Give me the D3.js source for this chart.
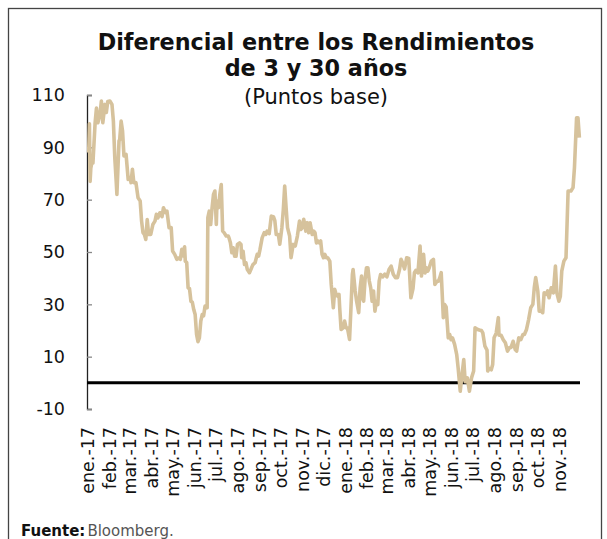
<!DOCTYPE html>
<html lang="es">
<head>
<meta charset="utf-8">
<script src="https://cdn.jsdelivr.net/npm/d3@7/dist/d3.min.js"></script>
<style>
  html, body { margin: 0; padding: 0; background: #fff; }
  svg { display: block; }
  text { font-family: "DejaVu Sans", "Noto Sans", sans-serif; fill: #111; }
</style>
</head>
<body>
<svg id="grafica" width="607" height="539"></svg>
<script>
// Diferencial 3 vs 30 años, puntos base (observaciones diarias muestreadas)
const fechas = [
  "2017-01-02","2017-01-03","2017-01-04","2017-01-05","2017-01-07","2017-01-08","2017-01-11","2017-01-13","2017-01-15","2017-01-18",
  "2017-01-20","2017-01-22","2017-01-25","2017-01-27","2017-01-29","2017-02-01","2017-02-04","2017-02-06","2017-02-08","2017-02-10",
  "2017-02-11","2017-02-14","2017-02-15","2017-02-17","2017-02-19","2017-02-21","2017-02-24","2017-02-27","2017-03-02","2017-03-03",
  "2017-03-05","2017-03-07","2017-03-10","2017-03-13","2017-03-16","2017-03-18","2017-03-20","2017-03-22","2017-03-24","2017-03-26",
  "2017-03-28","2017-03-31","2017-04-03","2017-04-06","2017-04-08","2017-04-10","2017-04-13","2017-04-16","2017-04-18","2017-04-21",
  "2017-04-23","2017-04-26","2017-04-29","2017-05-01","2017-05-04","2017-05-07","2017-05-10","2017-05-12","2017-05-14","2017-05-16",
  "2017-05-18","2017-05-19","2017-05-21","2017-05-23","2017-05-25","2017-05-27","2017-05-29","2017-05-31","2017-06-02","2017-06-04",
  "2017-06-06","2017-06-08","2017-06-10","2017-06-12","2017-06-14","2017-06-16","2017-06-17","2017-06-19","2017-06-20","2017-06-22",
  "2017-06-24","2017-06-26","2017-06-28","2017-06-30","2017-07-02","2017-07-03","2017-07-05","2017-07-07","2017-07-09","2017-07-11",
  "2017-07-13","2017-07-16","2017-07-19","2017-07-20","2017-07-22","2017-07-24","2017-07-26","2017-07-28","2017-07-30","2017-08-01",
  "2017-08-04","2017-08-06","2017-08-07","2017-08-09","2017-08-11","2017-08-13","2017-08-15","2017-08-18","2017-08-20","2017-08-22",
  "2017-08-23","2017-08-26","2017-08-29","2017-08-31","2017-09-02","2017-09-05","2017-09-08","2017-09-10","2017-09-12","2017-09-15",
  "2017-09-18","2017-09-21","2017-09-23","2017-09-25","2017-09-28","2017-09-30","2017-10-03","2017-10-05","2017-10-07","2017-10-09",
  "2017-10-11","2017-10-14","2017-10-16","2017-10-19","2017-10-22","2017-10-25","2017-10-28","2017-10-30","2017-11-01","2017-11-03",
  "2017-11-06","2017-11-08","2017-11-10","2017-11-12","2017-11-15","2017-11-17","2017-11-19","2017-11-21","2017-11-23","2017-11-25",
  "2017-11-27","2017-11-29","2017-12-01","2017-12-03","2017-12-05","2017-12-07","2017-12-10","2017-12-12","2017-12-15","2017-12-17",
  "2017-12-19","2017-12-21","2017-12-23","2017-12-24","2017-12-26","2017-12-29","2017-12-31","2018-01-02","2018-01-04","2018-01-07",
  "2018-01-09","2018-01-11","2018-01-12","2018-01-15","2018-01-17","2018-01-20","2018-01-22","2018-01-24","2018-01-26","2018-01-27",
  "2018-01-29","2018-01-31","2018-02-02","2018-02-04","2018-02-06","2018-02-08","2018-02-10","2018-02-12","2018-02-14","2018-02-16",
  "2018-02-18","2018-02-20","2018-02-23","2018-02-26","2018-03-01","2018-03-04","2018-03-07","2018-03-10","2018-03-13","2018-03-16",
  "2018-03-19","2018-03-21","2018-03-23","2018-03-26","2018-03-29","2018-04-01","2018-04-04","2018-04-07","2018-04-09","2018-04-11",
  "2018-04-14","2018-04-17","2018-04-19","2018-04-22","2018-04-24","2018-04-26","2018-04-28","2018-04-30","2018-05-03","2018-05-06",
  "2018-05-08","2018-05-11","2018-05-13","2018-05-15","2018-05-17","2018-05-20","2018-05-22","2018-05-24","2018-05-27","2018-05-29",
  "2018-05-31","2018-06-02","2018-06-05","2018-06-08","2018-06-10","2018-06-13","2018-06-15","2018-06-18","2018-06-20","2018-06-23",
  "2018-06-26","2018-06-29","2018-07-02","2018-07-04","2018-07-07","2018-07-10","2018-07-13","2018-07-15","2018-07-18","2018-07-21",
  "2018-07-22","2018-07-24","2018-07-27","2018-07-29","2018-07-31","2018-08-03","2018-08-06","2018-08-07","2018-08-10","2018-08-13",
  "2018-08-16","2018-08-19","2018-08-22","2018-08-24","2018-08-27","2018-08-30","2018-09-01","2018-09-04","2018-09-07","2018-09-10",
  "2018-09-12","2018-09-15","2018-09-18","2018-09-21","2018-09-24","2018-09-26","2018-09-28","2018-10-01","2018-10-03","2018-10-06",
  "2018-10-08","2018-10-10","2018-10-13","2018-10-15","2018-10-17","2018-10-20","2018-10-23","2018-10-26","2018-10-28","2018-10-31",
  "2018-11-02","2018-11-04","2018-11-07","2018-11-10","2018-11-13","2018-11-17","2018-11-20","2018-11-22","2018-11-25","2018-11-27",
  "2018-11-29"
];

const diferencial = [
  88,99,77,82,85,84,99,105,99.4,102.6,
  107.7,99.4,106.4,103.3,107.5,107.7,106.4,100,86,77,
  72,92.4,93,100,96.2,86.7,87.3,77.7,78.5,76.5,
  81.6,76.5,76.5,70.7,69.5,61.8,57.4,56.7,54.8,62.4,
  56.7,56.7,60.5,61.8,64.4,63,65,63.5,66.9,65,
  65.6,59.3,59.3,50.4,49.1,47.2,47.8,47.2,51,48.5,
  52,46.5,46,36.3,36,31.2,30.8,28,26.1,18.5,
  15.7,17.2,23.6,26.1,25.6,29.3,28.6,28.7,63.1,65.6,
  60.5,66.9,72,73.3,60.5,69.5,66.9,72,75.8,58,
  57.4,56.1,56.1,55.4,53.5,49.7,51.6,48.4,48.4,52.9,
  53.5,52.9,47.8,50.3,45.2,45.9,43.3,42.1,43.3,44.6,
  45.2,45.9,49.1,48.4,51,55.4,57.4,56.7,58,57,
  63.7,63.5,62,56.7,56.7,53,59.3,66,75.2,66.9,
  59.3,56.1,47.8,52.9,52.3,56.1,61.8,58.6,59.3,62.5,
  58,61.2,57.4,61.2,56.7,58,57.4,53.5,54.2,53.5,
  54.2,49.1,47.8,49.1,47.8,47.8,46.5,37.6,28.7,35.7,
  33.8,33.1,33.8,28.7,20.4,21,23.6,21,21,16.6,
  28.7,41.4,43.3,35.1,31.2,26.8,36.3,40.8,31.9,31.2,
  39.5,44,44,38.9,36.3,31.2,35.1,27.4,31.2,29.9,
  38.9,41.4,40.5,41.5,40.5,43.3,44.6,41.5,40.2,40.2,
  43.5,47.2,46,43.5,47.8,47.5,32.5,36,42.1,43,
  42,52.3,40.8,49.1,42,44,42.7,44,46.5,47.2,
  37.6,38.8,38.8,40.2,42.1,24.9,29.9,29,17.2,18.5,
  16.5,17.2,14.7,10.8,5.7,-3.2,1.9,8.9,0.4,1.9,
  -3.2,1.9,4.5,21,20.5,20.2,20,19.1,14,12.5,
  4.5,5.5,5,7,17.2,19,24.9,18.2,18.2,16.5,
  15.3,12.1,13.5,13.5,15.9,12.7,12.1,17.2,16.5,18.5,
  18.5,20.4,24.2,28.7,30,36.3,40.2,35.1,27.4,27.4,
  26.8,34.4,33.8,35.1,32.5,36.3,34.4,44.6,34.4,31.2,
  33.1,42.7,46.5,47.8,73.3,73.3,74.6,82.2,101.3,101.3,
  93.7
];

const ticksY = [-10, 10, 30, 50, 70, 90, 110];
const etiquetasX = [
  "ene.-17","feb.-17","mar.-17","abr.-17","may.-17","jun.-17","jul.-17","ago.-17","sep.-17","oct.-17","nov.-17","dic.-17",
  "ene.-18","feb.-18","mar.-18","abr.-18","may.-18","jun.-18","jul.-18","ago.-18","sep.-18","oct.-18","nov.-18"
];
const titulo = ["Diferencial entre los Rendimientos", "de 3 y 30 años"];
const subtitulo = "(Puntos base)";

const parse = d3.timeParse("%Y-%m-%d");
const serie = fechas.map((f, i) => ({ fecha: parse(f), valor: diferencial[i] }));

const svg = d3.select("#grafica");

// marco
svg.append("rect")
  .attr("x", 8.5).attr("y", 8.5)
  .attr("width", 593).attr("height", 560)
  .attr("fill", "none").attr("stroke", "#444").attr("stroke-width", 1.3);

const x = d3.scaleTime()
  .domain([new Date(2017, 0, 1), new Date(2018, 11, 1)])
  .range([88, 580.8]);
const y = d3.scaleLinear().domain([-10, 110]).range([409, 95]);

// títulos
const gT = svg.append("g").attr("text-anchor", "middle");
gT.append("text").attr("x", 316).attr("y", 50)
  .style("font-size", "22.3px").style("font-weight", 700).text(titulo[0]);
gT.append("text").attr("x", 316).attr("y", 76)
  .style("font-size", "22.3px").style("font-weight", 700).text(titulo[1]);
gT.append("text").attr("x", 316).attr("y", 104)
  .style("font-size", "21px").style("font-weight", 400).text(subtitulo);

// eje Y
const ejeY = svg.append("g").attr("transform", "translate(87,0)")
  .call(d3.axisRight(y).tickValues(ticksY).tickSize(5).tickFormat(""));
ejeY.select(".domain").attr("stroke", "#222").attr("stroke-width", 1.3);
ejeY.selectAll(".tick line").attr("stroke", "#888").attr("stroke-width", 1.3);

svg.append("g").selectAll("text").data(ticksY).join("text")
  .attr("x", 65).attr("y", d => y(d)).attr("dy", "0.36em")
  .attr("text-anchor", "end").style("font-size", "17.5px")
  .text(d => d);

// etiquetas de meses
const meses = d3.timeMonth.range(new Date(2017, 0, 1), new Date(2018, 11, 1));
svg.append("g").selectAll("text").data(meses).join("text")
  .attr("transform", d => `translate(${x(d)},427) rotate(-90)`)
  .attr("dy", "0.36em").attr("text-anchor", "end")
  .style("font-size", "17.5px")
  .text((d, i) => etiquetasX[i]);

// línea del cero
svg.append("line")
  .attr("x1", 87).attr("x2", 580)
  .attr("y1", y(0)).attr("y2", y(0))
  .attr("stroke", "#000").attr("stroke-width", 3);

// serie
const linea = d3.line().x(d => x(d.fecha)).y(d => y(d.valor));
svg.append("path").datum(serie)
  .attr("d", linea)
  .attr("fill", "none")
  .attr("stroke", "#d6c29c")
  .attr("stroke-width", 3.6)
  .attr("stroke-linejoin", "round");

// fuente
const fuente = svg.append("text").attr("x", 21).attr("y", 536).style("font-size", "15px");
fuente.append("tspan").style("font-weight", 700).text("Fuente:");
fuente.append("tspan").attr("dx", 2).style("fill", "#555").text("Bloomberg.");
</script>
</body>
</html>
